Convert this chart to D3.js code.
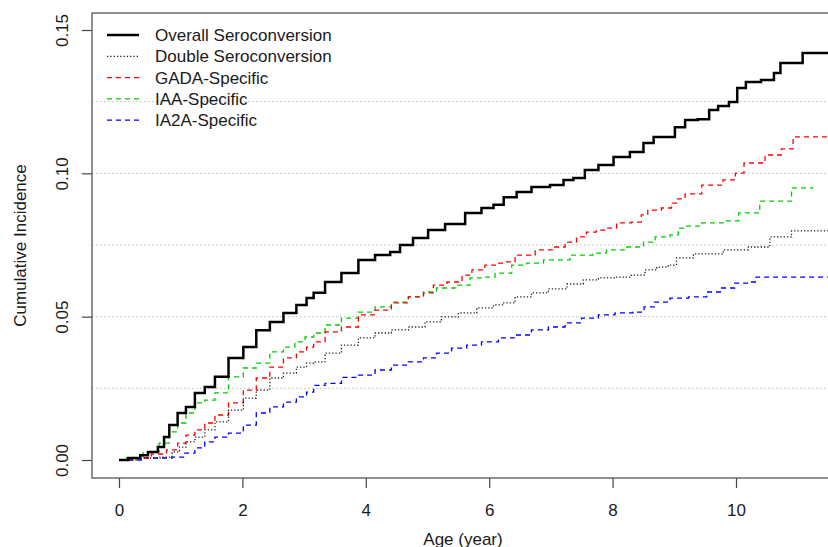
<!DOCTYPE html>
<html>
<head>
<meta charset="utf-8">
<script src="https://cdn.jsdelivr.net/npm/d3@7"></script>
<style>
  body { margin: 0; background: #fff; }
  text { font-family: "Liberation Sans", Arial, sans-serif; fill: #1a1a1a; }
</style>
</head>
<body>
<div class="vis-holder"></div>
<script>
// cumulative incidence by age
var overallAge = [0, 0.3, 0.39, 0.55, 0.71, 0.75, 0.88, 1.02, 1.15, 1.31, 1.47, 1.64, 1.91, 2.12, 2.33, 2.56, 2.77, 2.98, 3.10, 3.21, 3.47, 3.74, 4.02, 4.28, 4.51, 4.60, 4.93, 5.09, 5.48, 5.74, 6.01, 6.13, 6.34, 6.55, 6.82, 7.15, 7.26, 7.47, 7.63, 7.91, 8.12, 8.44, 8.56, 8.77, 8.93, 9.09, 9.26, 9.50, 9.63, 9.79, 9.98, 10.06, 10.26, 10.55, 10.68, 10.76, 11.07, 11.09, 11.6];
var overallInc = [0, 0.0007, 0.0017, 0.0028, 0.0045, 0.008, 0.0122, 0.0164, 0.0185, 0.0234, 0.0255, 0.029, 0.0356, 0.0394, 0.0453, 0.0481, 0.0513, 0.0541, 0.0565, 0.0583, 0.0621, 0.0652, 0.0698, 0.0715, 0.0726, 0.075, 0.0774, 0.0802, 0.0823, 0.0862, 0.0879, 0.089, 0.0917, 0.0935, 0.0952, 0.0959, 0.0977, 0.0984, 0.1012, 0.1029, 0.1057, 0.1074, 0.1106, 0.1127, 0.1127, 0.1161, 0.1186, 0.1189, 0.1221, 0.1235, 0.1249, 0.1298, 0.1319, 0.1326, 0.135, 0.1385, 0.1385, 0.142, 0.142];

var doubleAge = [0, 0.55, 0.78, 0.94, 1.02, 1.15, 1.31, 1.47, 1.64, 1.91, 2.12, 2.33, 2.56, 2.77, 2.98, 3.10, 3.21, 3.47, 3.74, 4.02, 4.28, 4.55, 4.83, 5.09, 5.36, 5.64, 5.96, 6.18, 6.29, 6.55, 6.82, 7.10, 7.42, 7.63, 7.91, 8.17, 8.44, 8.61, 8.82, 8.98, 9.09, 9.53, 10.06, 10.34, 10.76, 11.04, 11.6];
var doubleInc = [0, 0.0007, 0.001, 0.0028, 0.0045, 0.0063, 0.008, 0.0105, 0.0133, 0.0174, 0.0216, 0.0244, 0.0286, 0.0303, 0.0324, 0.0338, 0.0342, 0.0373, 0.0401, 0.0426, 0.0443, 0.0454, 0.0464, 0.0482, 0.0499, 0.0513, 0.0531, 0.0541, 0.0548, 0.0569, 0.0583, 0.0597, 0.0614, 0.0628, 0.0635, 0.0638, 0.0645, 0.0663, 0.0673, 0.068, 0.0705, 0.0719, 0.0733, 0.0743, 0.0778, 0.0799, 0.0799];

var gadaAge = [0, 0.39, 0.66, 0.88, 1.02, 1.15, 1.31, 1.47, 1.64, 1.91, 2.12, 2.33, 2.56, 2.77, 2.98, 3.10, 3.21, 3.47, 3.74, 4.02, 4.28, 4.55, 4.83, 5.04, 5.15, 5.48, 5.64, 5.80, 6.06, 6.18, 6.29, 6.55, 6.94, 7.15, 7.31, 7.52, 7.63, 7.84, 7.96, 8.17, 8.44, 8.49, 8.65, 8.93, 8.98, 9.09, 9.26, 9.63, 9.95, 10.03, 10.23, 10.71, 10.76, 11.09, 11.6];
var gadaInc = [0, 0.0007, 0.0021, 0.0035, 0.0059, 0.0087, 0.0105, 0.0129, 0.0157, 0.0199, 0.0244, 0.0286, 0.0324, 0.0356, 0.0377, 0.0394, 0.0412, 0.0447, 0.0464, 0.0506, 0.0523, 0.0548, 0.0569, 0.0583, 0.061, 0.0621, 0.0645, 0.0663, 0.068, 0.0687, 0.0691, 0.0715, 0.0733, 0.0743, 0.076, 0.0778, 0.0795, 0.0802, 0.0809, 0.0827, 0.083, 0.0855, 0.0872, 0.0879, 0.0896, 0.0911, 0.0928, 0.0959, 0.0977, 0.1001, 0.1036, 0.1064, 0.1085, 0.1127, 0.1127];

var iaaAge = [0, 0.23, 0.55, 0.75, 0.88, 1.02, 1.15, 1.31, 1.47, 1.64, 1.91, 2.12, 2.33, 2.56, 2.77, 2.93, 3.10, 3.21, 3.47, 3.74, 4.02, 4.28, 4.55, 4.83, 5.04, 5.25, 5.64, 5.74, 6.01, 6.18, 6.55, 6.66, 7.10, 7.52, 7.84, 7.96, 8.44, 8.56, 8.82, 9.04, 9.09, 9.26, 9.63, 10.03, 10.06, 10.71, 11.09, 11.25];
var iaaInc = [0, 0.0007, 0.0028, 0.0059, 0.0098, 0.0129, 0.0164, 0.0199, 0.0209, 0.0234, 0.029, 0.0321, 0.0338, 0.0377, 0.0394, 0.0412, 0.0429, 0.0443, 0.0471, 0.0495, 0.0516, 0.0534, 0.0551, 0.0569, 0.0586, 0.06, 0.061, 0.0635, 0.0638, 0.0652, 0.068, 0.0687, 0.0698, 0.0715, 0.0722, 0.0733, 0.0743, 0.076, 0.0778, 0.0785, 0.0809, 0.0816, 0.0827, 0.0834, 0.0862, 0.0903, 0.0949, 0.0949];

var ia2aAge = [0, 0.78, 0.94, 1.15, 1.31, 1.47, 1.64, 1.91, 2.12, 2.33, 2.56, 2.77, 2.98, 3.10, 3.21, 3.47, 3.74, 4.02, 4.28, 4.55, 4.83, 5.04, 5.25, 5.53, 5.74, 6.01, 6.29, 6.55, 6.82, 7.10, 7.36, 7.63, 7.91, 8.17, 8.49, 8.53, 8.82, 9.04, 9.42, 9.63, 9.90, 10.06, 10.31, 10.34, 11.6];
var ia2aInc = [0, 0.0007, 0.001, 0.0024, 0.0042, 0.0063, 0.008, 0.0094, 0.0122, 0.0164, 0.0185, 0.0202, 0.022, 0.0237, 0.026, 0.0267, 0.0288, 0.0296, 0.0314, 0.0331, 0.0342, 0.0356, 0.0373, 0.039, 0.0401, 0.0412, 0.0426, 0.0436, 0.0454, 0.0464, 0.0478, 0.0495, 0.0506, 0.0513, 0.0516, 0.0534, 0.0551, 0.0565, 0.0569, 0.0586, 0.06, 0.0617, 0.0621, 0.0638, 0.0638];

var seriesNames = ["Overall Seroconversion", "Double Seroconversion", "GADA-Specific", "IAA-Specific", "IA2A-Specific"];
var xTicks = [0, 2, 4, 6, 8, 10];
var yTicks = [0.00, 0.05, 0.10, 0.15];
var gridValues = [0.025, 0.05, 0.075, 0.10, 0.125];

var seriesAges = [overallAge, doubleAge, gadaAge, iaaAge, ia2aAge];
var seriesIncs = [overallInc, doubleInc, gadaInc, iaaInc, ia2aInc];

// line styles, same order as seriesNames
var styles = [
  { color: "#000000", width: 2.5, dash: null },
  { color: "#222222", width: 1.3, dash: "1.3,2" },
  { color: "#ff0000", width: 1.3, dash: "5,4" },
  { color: "#00cd00", width: 1.3, dash: "5,4" },
  { color: "#0000ff", width: 1.3, dash: "5,4" }
];

var width = 828;
var height = 547;
var box = { left: 92, top: 13, right: 834, bottom: 478 };
var fontSize = "17px";

var svg = d3.select('div.vis-holder')
            .append('svg')
            .attr('width', width)
            .attr('height', height)
            .style('display', 'block');

var xScale = d3.scaleLinear()
               .domain([0, 10])
               .range([119, 736]);

var yScale = d3.scaleLinear()
               .domain([0, 0.15])
               .range([460, 30]);

svg.append("clipPath")
   .attr("id", "plot-clip")
   .append("rect")
   .attr("x", box.left)
   .attr("y", box.top)
   .attr("width", box.right - box.left)
   .attr("height", box.bottom - box.top);

// dotted horizontal grid
svg.append("g")
   .selectAll("line")
   .data(gridValues)
   .enter()
   .append("line")
   .attr("x1", box.left)
   .attr("x2", box.right)
   .attr("y1", d => yScale(d))
   .attr("y2", d => yScale(d))
   .attr("stroke", "#bbbbbb")
   .attr("stroke-width", 1)
   .attr("stroke-dasharray", "1.5,2.5");

var line = d3.line()
             .x(d => xScale(d[0]))
             .y(d => yScale(d[1]))
             .curve(d3.curveStep);

var curves = svg.append("g").attr("clip-path", "url(#plot-clip)");

// draw from last to first so the solid overall curve sits on top
for (var i = seriesNames.length - 1; i >= 0; i--) {
  var pts = seriesAges[i].map((a, j) => [a, seriesIncs[i][j]]);
  curves.append("path")
        .datum(pts)
        .attr("d", line)
        .attr("fill", "none")
        .attr("stroke", styles[i].color)
        .attr("stroke-width", styles[i].width)
        .attr("stroke-dasharray", styles[i].dash)
        .attr("stroke-linejoin", "miter");
}

// axes
var xAxis = svg.append("g")
               .attr("transform", `translate(0, ${box.bottom})`)
               .call(d3.axisBottom(xScale).tickValues(xTicks).tickSize(10).tickFormat(d3.format("d")));
xAxis.select(".domain").remove();
xAxis.selectAll("line").attr("stroke", "#444").attr("stroke-width", 1.2);
xAxis.selectAll("text")
     .attr("y", 38)
     .attr("dy", 0)
     .style("font-size", fontSize)
     .style("fill", "#1a1a1a");

var yAxis = svg.append("g")
               .attr("transform", `translate(${box.left}, 0)`)
               .call(d3.axisLeft(yScale).tickValues(yTicks).tickSize(10).tickFormat(d3.format(".2f")));
yAxis.select(".domain").remove();
yAxis.selectAll("line").attr("stroke", "#444").attr("stroke-width", 1.2);
yAxis.selectAll("text")
     .attr("x", 0)
     .attr("dy", 0)
     .attr("text-anchor", "middle")
     .attr("transform", "translate(-24,0)rotate(-90)")
     .style("font-size", fontSize)
     .style("fill", "#1a1a1a");

// plot box
svg.append("rect")
   .attr("x", box.left)
   .attr("y", box.top)
   .attr("width", box.right - box.left)
   .attr("height", box.bottom - box.top)
   .attr("fill", "none")
   .attr("stroke", "#555")
   .attr("stroke-width", 1.3);

var yLabel = svg.append("text")
                .attr("text-anchor", "middle")
                .attr("transform", "translate(26,245.5)rotate(-90)")
                .style("font-size", fontSize)
                .text("Cumulative Incidence");

var xLabel = svg.append("text")
                .attr("text-anchor", "middle")
                .attr("x", 463)
                .attr("y", 545)
                .style("font-size", fontSize)
                .text("Age (year)");

// legend, no frame
var legend = svg.append("g")
                .selectAll("g")
                .data(seriesNames)
                .enter()
                .append("g")
                .attr("transform", (d, i) => `translate(0, ${35 + i * 21.3})`);

legend.append("line")
      .attr("x1", 107)
      .attr("x2", 139)
      .attr("stroke", (d, i) => styles[i].color)
      .attr("stroke-width", (d, i) => styles[i].width)
      .attr("stroke-dasharray", (d, i) => styles[i].dash);

legend.append("text")
      .attr("x", 155)
      .attr("dy", "0.36em")
      .style("font-size", fontSize)
      .text(d => d);
</script>
</body>
</html>
